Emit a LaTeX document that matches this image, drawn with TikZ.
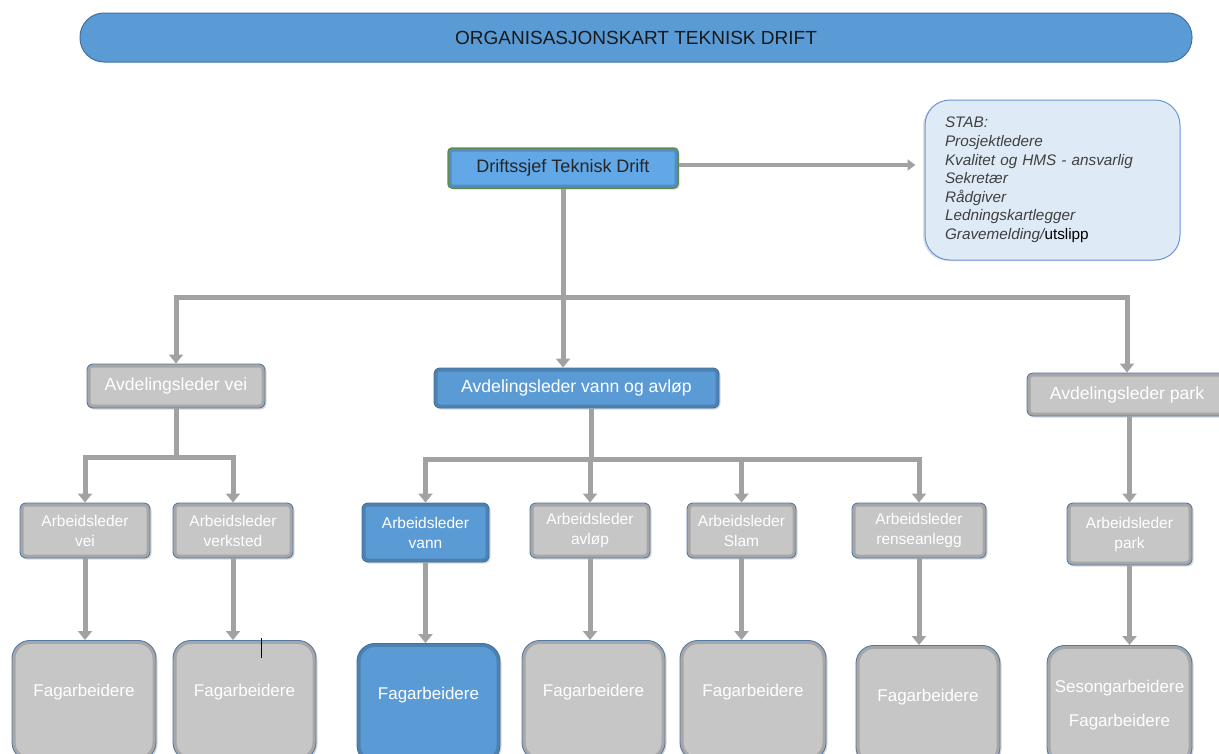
\documentclass[tikz,border=0pt]{standalone}
\usepackage{fontspec}
\setmainfont{Liberation Sans}
\usepackage{tikz}
\usetikzlibrary{arrows.meta, shadows, calc}

\definecolor{barblue}{HTML}{5B9BD5}
\definecolor{barline}{HTML}{41719C}
\definecolor{bossblue}{HTML}{62A8E6}
\definecolor{bossline}{HTML}{5E8C50}
\definecolor{boxgray}{HTML}{C6C6C6}
\definecolor{boxline}{HTML}{5279A8}
\definecolor{stabfill}{HTML}{DEEAF6}
\definecolor{stabline}{HTML}{6C95D4}
\definecolor{stabtext}{HTML}{404040}
\definecolor{linkgray}{HTML}{A2A2A2}

\tikzset{
  orgbox/.style={draw=boxline, line width=0.9pt, rounded corners=6pt, text=white, align=center,
    drop shadow={opacity=0.3, shadow xshift=1.5pt, shadow yshift=-1.5pt},
    path picture={\draw[line width=7pt, black, opacity=0.16]
      (path picture bounding box.south west) rectangle (path picture bounding box.north east);}},
  graybox/.style={orgbox, fill=boxgray},
  bluebox/.style={orgbox, fill=barblue, draw=barline},
  avdfont/.style={font=\fontsize{17.6}{20}\selectfont},
  alfont/.style={font=\fontsize{15.5}{20}\selectfont},
  fagbox/.style={rounded corners=18pt, minimum height=120pt, anchor=north,
    font=\fontsize{17}{34}\selectfont},
  fagtext/.style={text height=12pt, text depth=20pt},
  link/.style={draw=linkgray, line width=5pt, line join=miter,
    -{Triangle[width=14pt, length=9pt]}},
  stablink/.style={draw=linkgray, line width=3.5pt, shorten >=9pt,
    -{Triangle[width=11pt, length=8pt]}},
}

\begin{document}
\begin{tikzpicture}[x=1pt, y=-1pt]

    % --- 1. PAGE ---
    \useasboundingbox (0,0) rectangle (1219,753);
    \fill[white] (0,0) rectangle (1219,753);

    % --- 2. HEADER ---
    \node[fill=barblue, draw=barline, line width=1pt, rounded corners=24pt,
        minimum width=1112pt, minimum height=49pt, text=black!90,
        font=\fontsize{19}{20}\selectfont] (title) at (636,37.5)
        {ORGANISASJONSKART TEKNISK DRIFT};

    % --- 3. DRIFTSSJEF AND STAB ---
    \node[orgbox, fill=bossblue, draw=bossline, line width=1.5pt, rounded corners=4pt,
        minimum width=230pt, minimum height=40pt, text=black!85,
        font=\fontsize{18}{20}\selectfont] (boss) at (563,168)
        {Driftssjef Teknisk Drift};

    \node[draw=stabline, fill=stabfill, line width=1pt, rounded corners=25pt,
        minimum width=255pt, minimum height=160pt, text width=215pt, align=left,
        text=stabtext, font=\fontsize{15.3}{18.6}\selectfont\itshape,
        drop shadow={opacity=0.25, shadow xshift=-2pt, shadow yshift=-1pt}] (stab) at (1052.5,180)
        {STAB:\\Prosjektledere\\Kvalitet og HMS - ansvarlig\\Sekret\ae r\\R\aa dgiver\\Ledningskartlegger\\Gravemelding/{\upshape\color{black}utslipp}};

    \draw[stablink] ([yshift=3pt]boss.east) -- ([yshift=3pt]stab.west |- boss.east);

    % --- 4. AVDELINGSLEDERE ---
    \node[graybox, avdfont, minimum width=178pt, minimum height=44pt] (avdVei) at (176,386) {Avdelingsleder vei};
    \node[bluebox, avdfont, minimum width=285pt, minimum height=40pt] (avdVA) at (576.5,388) {Avdelingsleder vann og avl\o p};
    \node[graybox, avdfont, minimum width=200pt, minimum height=43pt] (avdPark) at (1127,394.5) {Avdelingsleder park};

    \draw[link] (boss.south) -- (boss.south |- avdVA.north);
    \draw[link] (boss.south) -- ++(0,109) -| (avdVei.north);
    \draw[link] (boss.south) -- ++(0,109) -| (avdPark.north);

    % --- 5. ARBEIDSLEDERE ---
    \node[graybox, alfont, minimum width=130pt, minimum height=55pt] (alVei) at (85,530.5) {Arbeidsleder\\vei};
    \node[graybox, alfont, minimum width=120pt, minimum height=55pt] (alVerk) at (233,530.5) {Arbeidsleder\\verksted};
    \node[bluebox, alfont, minimum width=127pt, minimum height=59pt] (alVann) at (425.5,532.5) {Arbeidsleder\\vann};
    \node[graybox, alfont, minimum width=120pt, minimum height=55pt] (alAvlop) at (590,530.5) {Arbeidsleder\\avl\o p};
    \node[graybox, alfont, minimum width=109pt, minimum height=55pt] (alSlam) at (741.5,530.5) {Arbeidsleder\\Slam};
    \node[graybox, alfont, minimum width=134pt, minimum height=55pt] (alRense) at (919,530.5) {Arbeidsleder\\renseanlegg};
    \node[graybox, alfont, minimum width=125pt, minimum height=62pt] (alPark) at (1129.5,534) {Arbeidsleder\\park};

    % vei
    \draw[link] (avdVei.south) -- ++(0,49) -| (alVei.north);
    \draw[link] (avdVei.south) -- ++(0,49) -| (alVerk.north);
    % vann og avlop
    \coordinate (vaDrop) at ([xshift=15pt]avdVA.south);
    \foreach \n in {alVann, alAvlop, alSlam, alRense}{
        \draw[link] (vaDrop) -- ++(0,51) -| (\n.north);
    }
    % park
    \draw[link] (alPark.north |- avdPark.south) -- (alPark.north);

    % --- 6. FAGARBEIDERE ---
    \node[graybox, fagbox, fagtext, minimum width=144pt] (fVei) at (84,640) {Fagarbeidere};
    \node[graybox, fagbox, fagtext, minimum width=143pt] (fVerk) at (244.5,640) {Fagarbeidere};
    \node[bluebox, fagbox, fagtext, minimum width=143pt] (fVann) at (428.5,643) {Fagarbeidere};
    \node[graybox, fagbox, fagtext, minimum width=143pt] (fAvlop) at (593.5,640) {Fagarbeidere};
    \node[graybox, fagbox, fagtext, minimum width=146pt] (fSlam) at (753,640) {Fagarbeidere};
    \node[graybox, fagbox, fagtext, minimum width=144pt] (fRense) at (928,645) {Fagarbeidere};
    \node[graybox, fagbox, minimum width=145pt] (fPark) at (1119.5,645) {Sesongarbeidere\\Fagarbeidere};

    \foreach \a/\b in {alVei/fVei, alVerk/fVerk, alVann/fVann, alAvlop/fAvlop,
                       alSlam/fSlam, alRense/fRense, alPark/fPark}{
        \draw[link] (\a.south) -- (\a.south |- \b.north);
    }

    % small mark on verksted box
    \draw[black, line width=1pt] (261,638) -- (261,658);

\end{tikzpicture}
\end{document}
